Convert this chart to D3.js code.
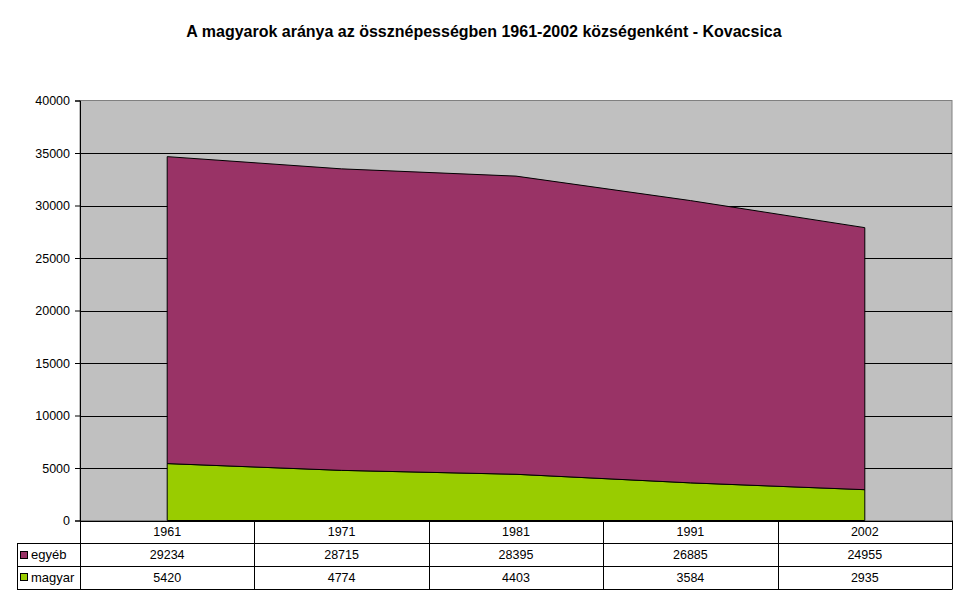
<!DOCTYPE html>
<html>
<head>
<meta charset="utf-8">
<script src="https://cdn.jsdelivr.net/npm/d3@7"></script>
<style>
  body { margin: 0; background: #fff; }
  text { font-family: "Liberation Sans", Arial, sans-serif; }
</style>
</head>
<body>
<div class="chart"></div>
<script>
const years = ['1961', '1971', '1981', '1991', '2002'];
const egyeb = [29234, 28715, 28395, 26885, 24955];
const magyar = [5420, 4774, 4403, 3584, 2935];
const yTicks = [0, 5000, 10000, 15000, 20000, 25000, 30000, 35000, 40000];
const seriesNames = ['magyar', 'egyéb'];
const seriesColors = {'magyar': '#99cc00', 'egyéb': '#993366'};
const title = 'A magyarok aránya az össznépességben 1961-2002 községenként - Kovacsica';

const width = 968, height = 604;
const plot = {left: 80, right: 952, top: 100.5, bottom: 520.5};
const rowH = 22.7;

const svg = d3.select('.chart').append('svg')
    .attr('width', width)
    .attr('height', height);

const rows = years.map((y, i) => ({year: y, 'magyar': magyar[i], 'egyéb': egyeb[i]}));
const stacked = d3.stack().keys(seriesNames)(rows);

const xScale = d3.scaleBand()
    .domain(years)
    .range([plot.left, plot.right]);

const yScale = d3.scaleLinear()
    .domain([0, 40000])
    .range([plot.bottom, plot.top]);

const cx = d => xScale(d.data.year) + xScale.bandwidth() / 2;

// plot background
svg.append('rect')
    .attr('x', plot.left)
    .attr('y', plot.top)
    .attr('width', plot.right - plot.left)
    .attr('height', plot.bottom - plot.top)
    .attr('fill', '#c0c0c0')
    .attr('stroke', '#808080');

// gridlines
svg.append('g')
  .selectAll('line')
  .data(yTicks.filter(t => t > 0 && t < 40000))
  .enter().append('line')
    .attr('x1', plot.left)
    .attr('x2', plot.right)
    .attr('y1', d => Math.round(yScale(d)) + 0.5)
    .attr('y2', d => Math.round(yScale(d)) + 0.5)
    .attr('stroke', '#000');

// areas
const area = d3.area()
    .x(cx)
    .y0(d => yScale(d[0]))
    .y1(d => yScale(d[1]));

svg.append('g')
  .selectAll('path')
  .data(stacked)
  .enter().append('path')
    .attr('d', area)
    .attr('fill', d => seriesColors[d.key])
    .attr('stroke', '#000')
    .attr('stroke-width', 1);

// y axis
const yAxis = svg.append('g')
    .attr('transform', `translate(${plot.left},0)`)
    .call(d3.axisLeft(yScale).tickValues(yTicks).tickSize(5).tickPadding(5).tickFormat(d3.format('d')));
yAxis.select('.domain').attr('stroke', '#000');
yAxis.selectAll('text')
    .attr('font-size', 12.5)
    .attr('font-family', '"Liberation Sans", Arial, sans-serif')
    .attr('fill', '#000');

// title
svg.append('text')
    .attr('x', 484)
    .attr('y', 37)
    .attr('text-anchor', 'middle')
    .attr('font-size', 16)
    .attr('font-weight', 'bold')
    .text(title);

// data table
const table = svg.append('g').attr('stroke', '#000').attr('fill', 'none');
const tTop = plot.bottom;
const colEdges = years.map(y => xScale(y)).concat([plot.right]);
// horizontal lines
[0, 1, 2, 3].forEach(i => {
  table.append('line')
    .attr('x1', i === 0 ? plot.left : 17)
    .attr('x2', plot.right)
    .attr('y1', Math.round(tTop + i * rowH) + 0.5)
    .attr('y2', Math.round(tTop + i * rowH) + 0.5);
});
// vertical lines
colEdges.forEach(x => {
  table.append('line')
    .attr('x1', Math.round(x) + 0.5)
    .attr('x2', Math.round(x) + 0.5)
    .attr('y1', tTop)
    .attr('y2', Math.round(tTop + 3 * rowH) + 0.5);
});
table.append('line')
    .attr('x1', 17.5).attr('x2', 17.5)
    .attr('y1', Math.round(tTop + rowH) + 0.5)
    .attr('y2', Math.round(tTop + 3 * rowH) + 0.5);

const cellText = svg.append('g')
    .attr('font-size', 12.5)
    .attr('text-anchor', 'middle')
    .attr('fill', '#000');

cellText.selectAll('.yr')
  .data(years)
  .enter().append('text')
    .attr('x', d => xScale(d) + xScale.bandwidth() / 2)
    .attr('y', tTop + rowH / 2 + 4.5)
    .text(d => d);

const tableRows = [['egyéb', egyeb], ['magyar', magyar]];
tableRows.forEach(([name, vals], r) => {
  const yMid = tTop + (r + 1) * rowH + rowH / 2;
  cellText.selectAll('.v' + r)
    .data(vals)
    .enter().append('text')
      .attr('x', (d, i) => xScale(years[i]) + xScale.bandwidth() / 2)
      .attr('y', yMid + 4.5)
      .text(d => d);
  svg.append('rect')
    .attr('x', 20.5)
    .attr('y', Math.round(yMid - 4) + 0.5)
    .attr('width', 7)
    .attr('height', 7)
    .attr('fill', seriesColors[name])
    .attr('stroke', '#000');
  svg.append('text')
    .attr('x', 31)
    .attr('y', yMid + 4.5)
    .attr('font-size', 13)
    .text(name);
});
</script>
</body>
</html>
